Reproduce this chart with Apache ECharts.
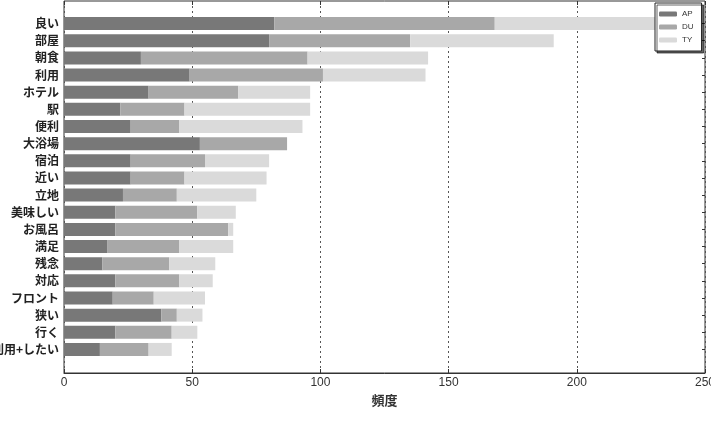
<!DOCTYPE html>
<html>
<head>
<meta charset="utf-8">
<script src="https://cdn.jsdelivr.net/npm/echarts@6/dist/echarts.min.js"></script>
<style>
  html, body { margin: 0; padding: 0; background: #fff; }
  #chart { width: 711px; height: 429px; }
</style>
</head>
<body>
<div id="chart"></div>
<script>
// categories, top to bottom
const categories = ['良い', '部屋', '朝食', '利用', 'ホテル', '駅', '便利', '大浴場', '宿泊', '近い',
  '立地', '美味しい', 'お風呂', '満足', '残念', '対応', 'フロント', '狭い', '行く', '利用+したい']
// stacked segments (frequency per group)
const apValues = [82, 80, 30, 49, 33, 22, 26, 53, 26, 26, 23, 20, 20, 17, 15, 20, 19, 38, 20, 14]
const duValues = [86, 55, 65, 52, 35, 25, 19, 34, 29, 21, 21, 32, 44, 28, 26, 25, 16, 6, 22, 19]
const tyValues = [72, 56, 47, 40, 28, 49, 48, 0, 25, 32, 31, 15, 2, 21, 18, 13, 20, 10, 10, 9]
const xTicks = [0, 50, 100, 150, 200, 250]

const myChart = echarts.init(document.getElementById('chart'))

const option = {
  animation: false,
  backgroundColor: '#fff',
  legend: {
    data: ['AP', 'DU', 'TY'],
    orient: 'vertical',
    left: 655,
    top: 3,
    itemWidth: 18,
    itemHeight: 5,
    itemGap: 5,
    padding: [7, 8, 7, 4],
    backgroundColor: '#fff',
    borderColor: '#222',
    borderWidth: 1,
    borderRadius: 0,
    shadowColor: 'rgba(0,0,0,0.6)',
    shadowOffsetX: 2,
    shadowOffsetY: 2,
    shadowBlur: 0,
    textStyle: { fontSize: 8, color: '#333', fontFamily: 'Liberation Sans' },
    z: 10
  },
  grid: [
    // outer frame
    { left: 64, right: 6, top: 1, bottom: 56, outerBoundsMode: 'none', containLabel: false, show: true, borderColor: '#333', borderWidth: 1, backgroundColor: 'transparent' },
    // bar area (inset top and bottom)
    { left: 64, right: 6, top: 15, bottom: 71, outerBoundsMode: 'none', containLabel: false }
  ],
  xAxis: [
    {
      type: 'value',
      gridIndex: 0,
      min: xTicks[0],
      max: xTicks[xTicks.length - 1],
      interval: 50,
      name: '頻度',
      nameLocation: 'middle',
      nameGap: 21,
      nameTextStyle: { fontSize: 13, fontWeight: 'bold', color: '#333', fontFamily: 'Noto Sans CJK JP' },
      axisLine: { show: true, lineStyle: { color: '#333', width: 1 } },
      axisTick: { show: true, inside: true, length: 4, lineStyle: { color: '#333' } },
      axisLabel: { fontSize: 12, color: '#333', margin: 4, fontFamily: 'Liberation Sans' },
      splitLine: { show: true, lineStyle: { color: '#555', type: [2, 3], width: 1 } }
    },
    {
      type: 'value',
      gridIndex: 0,
      position: 'top',
      min: 0,
      max: 250,
      interval: 50,
      axisLine: { show: false },
      axisTick: { show: true, inside: true, length: 4, lineStyle: { color: '#333' } },
      axisLabel: { show: false },
      splitLine: { show: false }
    },
    {
      type: 'value',
      gridIndex: 1,
      min: 0,
      max: 250,
      show: false
    }
  ],
  yAxis: [
    {
      type: 'value',
      gridIndex: 0,
      min: 0,
      max: 1,
      show: false
    },
    {
      type: 'category',
      gridIndex: 1,
      data: categories,
      inverse: true,
      axisLine: { show: false },
      axisTick: { show: true, inside: true, length: 3, alignWithLabel: true, lineStyle: { color: '#333' } },
      axisLabel: { fontSize: 12, fontWeight: 'bold', color: '#222', margin: 5, fontFamily: 'Noto Sans CJK JP' },
      splitLine: { show: false }
    },
    {
      type: 'category',
      gridIndex: 1,
      position: 'right',
      data: categories,
      inverse: true,
      axisLine: { show: false },
      axisTick: { show: true, inside: true, length: 3, alignWithLabel: true, lineStyle: { color: '#333' } },
      axisLabel: { show: false },
      splitLine: { show: false }
    }
  ],
  series: [
    { name: 'AP', type: 'bar', stack: 'total', xAxisIndex: 2, yAxisIndex: 1, barWidth: 13, data: apValues, itemStyle: { color: '#787878' } },
    { name: 'DU', type: 'bar', stack: 'total', xAxisIndex: 2, yAxisIndex: 1, barWidth: 13, data: duValues, itemStyle: { color: '#a8a8a8' } },
    { name: 'TY', type: 'bar', stack: 'total', xAxisIndex: 2, yAxisIndex: 1, barWidth: 13, data: tyValues, itemStyle: { color: '#dadada' } }
  ]
}

myChart.setOption(option)
</script>
</body>
</html>
